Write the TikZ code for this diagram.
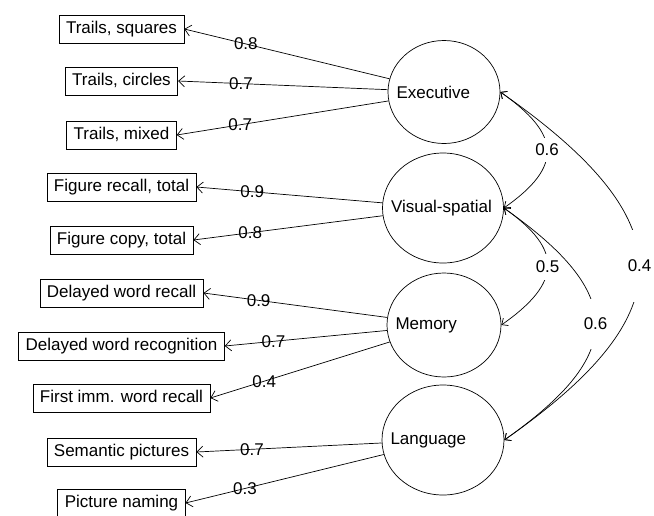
\documentclass[tikz,border=0pt]{standalone}
\usepackage{fontspec}
\setmainfont{Liberation Sans}
\usetikzlibrary{shapes.geometric, arrows.meta}

\tikzset{
    manifest/.style={draw, rectangle, inner xsep=7pt, minimum height=28pt,
        text height=12pt, text depth=3.5pt},
    latent/.style={draw, ellipse, inner sep=0pt},
    lattext/.style={anchor=west, inner sep=0pt, xshift=8.5pt},
    load/.style={-{Straight Barb[length=6pt,width=11pt]}},
    cov/.style={{Straight Barb[length=5pt,width=9pt]}-{Straight Barb[length=5pt,width=9pt]}},
    coef/.style={inner sep=0pt},
    covcoef/.style={fill=white, inner sep=1pt},
}

\begin{document}
\begin{tikzpicture}[x=1pt, y=-1pt, line width=0.7pt, font=\fontsize{17}{20}\selectfont]
    \useasboundingbox (0,0) rectangle (654,515);
    %% latent factors
    \node[latent, minimum width=112pt, minimum height=103pt,
        label={[lattext]west:Executive}] (exec) at (444,92) {};
    \node[latent, minimum width=121pt, minimum height=110pt,
        label={[lattext]west:Visual-spatial}] (vis) at (443,208) {};
    \node[latent, minimum width=114pt, minimum height=104pt,
        label={[lattext]west:Memory}] (mem) at (444,325) {};
    \node[latent, minimum width=122pt, minimum height=110pt,
        label={[lattext]west:Language}] (lang) at (443,440) {};
    %% observed tests
    \node[manifest] (sq) at (121.5,29) {Trails, squares};
    \node[manifest] (circ) at (121.5,81) {Trails, circles};
    \node[manifest] (mix) at (121.5,135) {Trails, mixed};
    \node[manifest] (frec) at (121.5,187) {Figure recall, total};
    \node[manifest] (fcopy) at (121.5,240) {Figure copy, total};
    \node[manifest] (dwrec) at (121.5,293) {Delayed word recall};
    \node[manifest] (dwrcg) at (121.5,346) {Delayed word recognition};
    \node[manifest] (fiwr) at (121.5,398) {First imm. word recall};
    \node[manifest] (sem) at (121.5,452) {Semantic pictures};
    \node[manifest] (pnam) at (121.5,503) {Picture naming};
    %% loadings
    \draw[load] (exec) -- node[coef, pos=0.7] {0.8} (sq.east);
    \draw[load] (exec) -- node[coef, pos=0.7] {0.7} (circ.east);
    \draw[load] (exec) -- node[coef, pos=0.7] {0.7} (mix.east);
    \draw[load] (vis) -- node[coef, pos=0.7] {0.9} (frec.east);
    \draw[load] (vis) -- node[coef, pos=0.7] {0.8} (fcopy.east);
    \draw[load] (mem) -- node[coef, pos=0.7] {0.9} (dwrec.east);
    \draw[load] (mem) -- node[coef, pos=0.7] {0.7} (dwrcg.east);
    \draw[load] (mem) -- node[coef, pos=0.7] {0.4} (fiwr.east);
    \draw[load] (lang) -- node[coef, pos=0.7] {0.7} (sem.east);
    \draw[load] (lang) -- node[coef, pos=0.7] {0.3} (pnam.east);
    %% factor correlations
    % the white label breaks the curve
    \draw[cov] (exec.east) .. controls +(60,42) and +(60,-42) ..
        node[covcoef, minimum height=24pt] {0.6} (vis.east);
    \draw[cov] (vis.east) .. controls +(60,42) and +(60,-42) ..
        node[covcoef, minimum height=26pt] {0.5} (mem.east);
    \draw[cov] (vis.east) .. controls +(122,86) and +(122,-86) ..
        node[covcoef, minimum height=50pt] {0.6} (lang.east);
    \draw[cov] (exec.east) .. controls +(183,128) and +(183,-128) ..
        node[covcoef, minimum height=72pt] {0.4} (lang.east);
\end{tikzpicture}
\end{document}
